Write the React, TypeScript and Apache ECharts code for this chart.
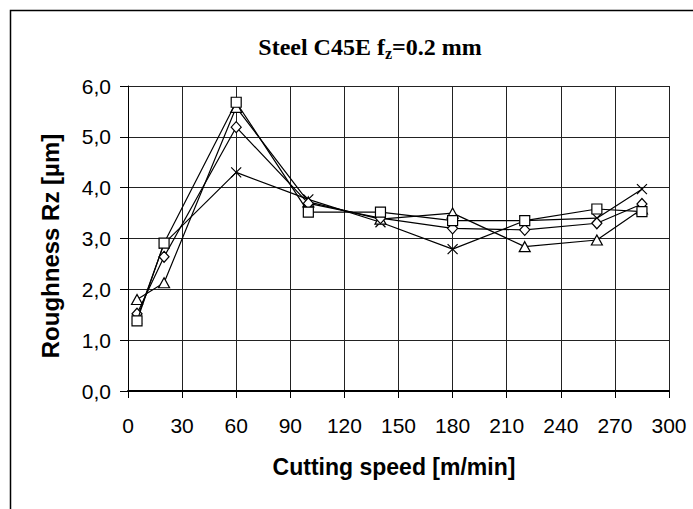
import React, { useEffect, useRef } from "react";
import * as echarts from "echarts";

const speeds = [5, 20, 60, 100, 140, 180, 220, 260, 285];
const squareSeries = [1.38, 2.91, 5.68, 3.52, 3.52, 3.35, 3.35, 3.58, 3.53];
const diamondSeries = [1.52, 2.64, 5.19, 3.69, 3.4, 3.2, 3.17, 3.3, 3.68];
const triangleSeries = [1.8, 2.13, 5.58, 3.72, 3.38, 3.5, 2.84, 2.97, 3.58];
const crossSeries = [1.42, 2.9, 4.3, 3.77, 3.32, 2.79, 3.35, 3.4, 3.97];

const titleParts = ["Steel C45E f", "z", "=0.2 mm"];
const xAxisTitle = "Cutting speed [m/min]";
const yAxisTitle = "Roughness Rz [µm]";

const pair = (vals: number[]) => speeds.map((s, i) => [s, vals[i]]);

export default function App() {
  const ref = useRef<HTMLDivElement>(null);
  useEffect(() => {
    if (!ref.current) return;
    const chart = echarts.init(ref.current, null, { renderer: "svg" });
    const lineStyle = { color: "#000", width: 1.2 };
    const itemStyle = { color: "#fff", borderColor: "#000", borderWidth: 1.2 };
    const mk = (data: number[], symbol: string, size: any, z: number) => ({
      type: "line",
      data: pair(data),
      symbol,
      symbolSize: size,
      showSymbol: true,
      lineStyle,
      itemStyle,
      z,
      emphasis: { disabled: true },
    });
    const axisTitleStyle = {
      fontFamily: "Liberation Sans",
      fontWeight: "bold",
      fontSize: 23,
      fill: "#000",
      align: "center",
      verticalAlign: "middle",
    };
    chart.setOption({
      animation: false,
      backgroundColor: "#fff",
      graphic: [
        {
          type: "rect",
          shape: { x: 10.5, y: 10.5, width: 700, height: 520 },
          style: { fill: "none", stroke: "#000", lineWidth: 1.5 },
          z: 0,
        },
        {
          type: "text",
          x: 370,
          y: 47,
          style: {
            text: `{a|${titleParts[0]}}{s|${titleParts[1]}}{a|${titleParts[2]}}`,
            align: "center",
            verticalAlign: "middle",
            rich: {
              a: {
                fontFamily: "Liberation Serif",
                fontWeight: "bold",
                fontSize: 24,
                fill: "#000",
                lineHeight: 26,
              },
              s: {
                fontFamily: "Liberation Serif",
                fontWeight: "bold",
                fontSize: 16,
                fill: "#000",
                lineHeight: 18,
                padding: [12, 0, 0, 0],
              },
            },
          },
        },
        {
          type: "text",
          x: 394,
          y: 467,
          style: { ...axisTitleStyle, text: xAxisTitle },
        },
        {
          type: "text",
          x: 50,
          y: 246,
          rotation: Math.PI / 2,
          style: { ...axisTitleStyle, fontSize: 24, text: yAxisTitle },
        },
      ],
      grid: {
        left: 128,
        top: 86,
        right: 24,
        bottom: 118,
        containLabel: false,
        outerBoundsMode: "none",
      },
      xAxis: {
        type: "value",
        min: 0,
        max: 300,
        interval: 30,
        axisLine: { show: true, lineStyle: { color: "#000", width: 2 } },
        axisTick: { show: true, inside: false, length: 7, lineStyle: { color: "#000", width: 1 } },
        axisLabel: {
          margin: 24,
          fontFamily: "Liberation Sans",
          fontSize: 21,
          color: "#000",
        },
        splitLine: { show: true, lineStyle: { color: "#222", width: 1 } },
      },
      yAxis: {
        type: "value",
        min: 0,
        max: 6,
        interval: 1,
        axisLine: { show: true, lineStyle: { color: "#000", width: 1 } },
        axisTick: { show: true, inside: false, length: 8, lineStyle: { color: "#000", width: 1 } },
        axisLabel: {
          margin: 17,
          fontFamily: "Liberation Sans",
          fontSize: 21,
          color: "#000",
          formatter: (v: number) => v.toFixed(1).replace(".", ","),
        },
        splitLine: { show: true, lineStyle: { color: "#222", width: 1 } },
      },
      series: [
        mk(crossSeries, "path://M0,0L10,10M10,0L0,10", 10, 2),
        mk(triangleSeries, "triangle", [11, 10], 3),
        mk(diamondSeries, "diamond", [10, 11], 4),
        mk(squareSeries, "rect", 10, 5),
      ],
    });
    return () => chart.dispose();
  }, []);
  return (
    <div
      ref={ref}
      style={{ position: "fixed", left: 0, top: 0, width: 693, height: 509, background: "#fff" }}
    />
  );
}
